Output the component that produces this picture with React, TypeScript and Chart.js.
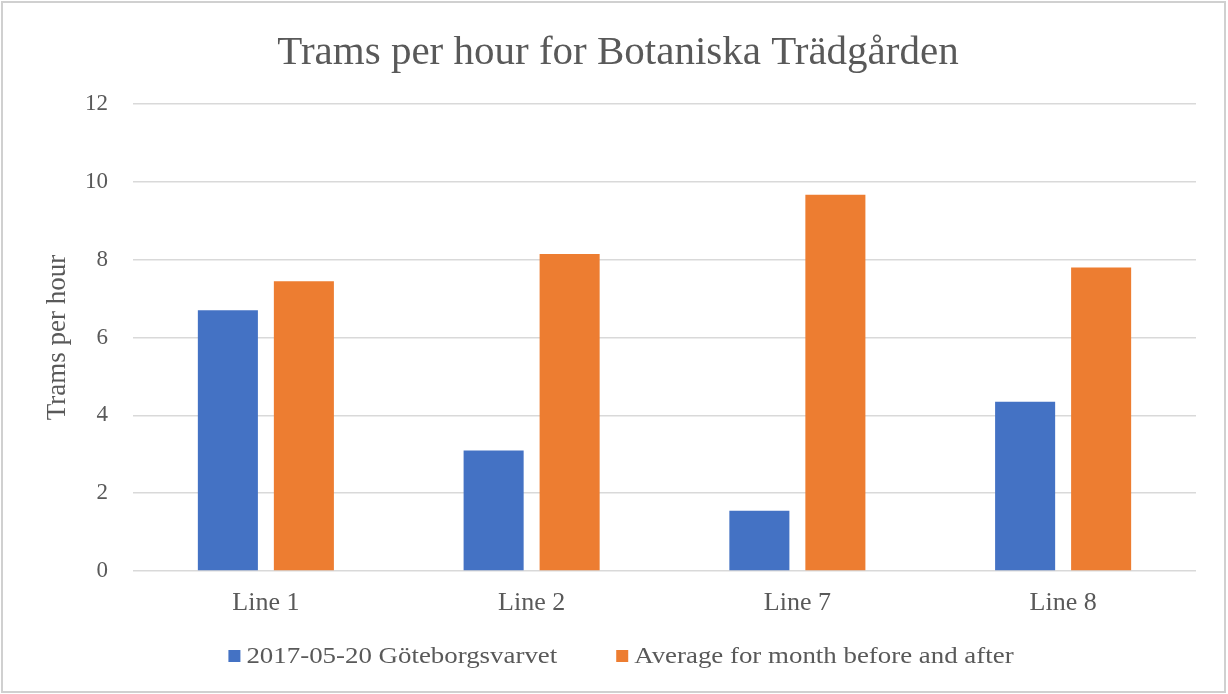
import React, { useEffect, useRef } from "react";
import { Chart, registerables } from "chart.js";

Chart.register(...registerables);

const categories = ["Line 1", "Line 2", "Line 7", "Line 8"];
const raceDayLabel = "2017-05-20 Göteborgsvarvet";
const raceDayValues = [6.7, 3.1, 1.55, 4.35];
const averageLabel = "Average for month before and after";
const averageValues = [7.45, 8.15, 9.67, 7.8];
const yTicks = [0, 2, 4, 6, 8, 10, 12];

const FONT = "'Liberation Serif', 'Times New Roman', serif";
const TEXT = "#595959";
const BLUE = "#4472C4";
const ORANGE = "#ED7D31";

const framePlugin = {
  id: "frame",
  beforeDraw(chart: any) {
    const ctx = chart.ctx;
    ctx.save();
    ctx.fillStyle = "#ffffff";
    ctx.fillRect(0, 0, chart.width, chart.height);
    ctx.strokeStyle = "#d0d0d0";
    ctx.lineWidth = 2;
    ctx.strokeRect(2, 2, chart.width - 5, chart.height - 4);
    ctx.restore();
  },
};

const STRETCH = 1.12;

const legendPlugin = {
  id: "customLegend",
  afterDraw(chart: any) {
    const ctx = chart.ctx;
    const ds = chart.data.datasets;
    ctx.save();
    ctx.font = `24px ${FONT}`;
    const box = 12;
    const textGap = 6;
    const itemGap = 59;
    const widths = ds.map((d: any) => ctx.measureText(d.label).width * STRETCH);
    let total = 0;
    widths.forEach((w: number, i: number) => {
      total += box + textGap + w + (i < widths.length - 1 ? itemGap : 0);
    });
    const centerX = chart.width / 2 + 7;
    const cy = 656;
    let x = centerX - total / 2;
    ds.forEach((d: any, i: number) => {
      ctx.fillStyle = d.backgroundColor;
      ctx.fillRect(x, cy - box / 2, box, box);
      x += box + textGap;
      ctx.save();
      ctx.translate(x, cy);
      ctx.scale(STRETCH, 1);
      ctx.fillStyle = TEXT;
      ctx.textBaseline = "middle";
      ctx.textAlign = "left";
      ctx.fillText(d.label, 0, 1);
      ctx.restore();
      x += widths[i] + itemGap;
    });
    ctx.restore();
  },
};

export default function App() {
  const ref = useRef<HTMLCanvasElement | null>(null);
  useEffect(() => {
    if (!ref.current) return;
    const chart = new Chart(ref.current, {
      type: "bar",
      data: {
        labels: categories,
        datasets: [
          {
            label: raceDayLabel,
            data: raceDayValues,
            backgroundColor: BLUE,
            borderWidth: 0,
            categoryPercentage: 0.572,
            barPercentage: 0.79,
          },
          {
            label: averageLabel,
            data: averageValues,
            backgroundColor: ORANGE,
            borderWidth: 0,
            categoryPercentage: 0.572,
            barPercentage: 0.79,
          },
        ],
      },
      options: {
        responsive: false,
        animation: false,
        devicePixelRatio: 1,
        layout: { padding: { left: 40, right: 32, top: 0, bottom: 0 } },
        plugins: {
          tooltip: { enabled: false },
          legend: { display: false },
          title: {
            display: true,
            text: "Trams per hour for Botaniska Trädgården",
            color: TEXT,
            font: { family: FONT, size: 41, weight: "normal" },
            padding: { top: 29, bottom: 26 },
          },
        },
        scales: {
          x: {
            grid: { display: false },
            border: { display: false },
            ticks: {
              color: TEXT,
              font: { family: FONT, size: 26 },
              padding: 9,
            },
            afterFit(scale: any) {
              scale.height = 123;
            },
          },
          y: {
            min: 0,
            max: 12,
            afterBuildTicks(scale: any) {
              scale.ticks = yTicks.map((v) => ({ value: v }));
            },
            grid: { color: "#d9d9d9", lineWidth: 1.5, drawTicks: false },
            border: { display: false },
            ticks: {
              color: TEXT,
              font: { family: FONT, size: 23 },
              padding: 25,
            },
            title: {
              display: true,
              text: "Trams per hour",
              color: TEXT,
              font: { family: FONT, size: 27 },
              padding: { top: 2, bottom: 4 },
            },
            afterFit(scale: any) {
              scale.width = 93;
            },
          },
        },
      },
      plugins: [framePlugin, legendPlugin],
    });
    return () => chart.destroy();
  }, []);
  return (
    <div style={{ position: "absolute", left: 0, top: 0, width: 1228, height: 694 }}>
      <canvas ref={ref} width={1228} height={694} style={{ display: "block" }} />
    </div>
  );
}
